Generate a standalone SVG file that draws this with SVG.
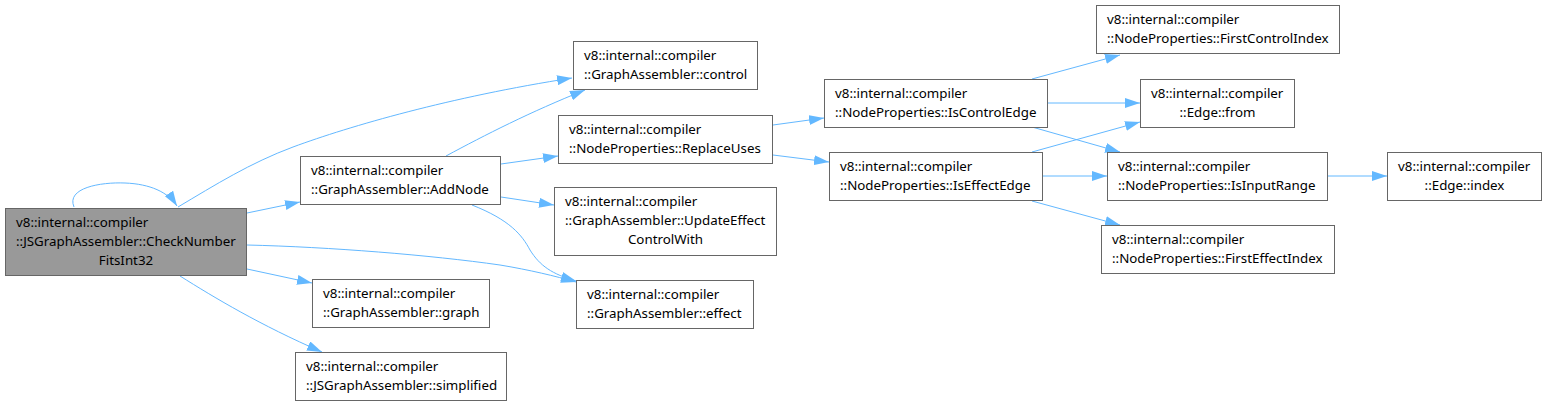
<svg xmlns="http://www.w3.org/2000/svg" width="1547" height="406" viewBox="0 0 1547 406">
<style>
.n rect{fill:#fff;stroke:#666;stroke-width:1}
.n.g rect{fill:#999}
.n text{font-family:"Noto Sans","DejaVu Sans",sans-serif;font-size:13.33px;fill:#000}
.n text.c{text-anchor:middle}
#edges path{fill:none;stroke:#63b8ff;stroke-width:1;marker-end:url(#ah)}
</style>
<defs>
<marker id="ah" viewBox="0 0 15 10" refX="15" refY="5" markerWidth="15" markerHeight="10" markerUnits="userSpaceOnUse" orient="auto">
<path d="M0,0 L15,5 L0,10 z" fill="#63b8ff"/>
</marker>
</defs>
<rect width="1547" height="406" fill="#fff"/>
<g id="edges">
<path d="M74,207 C66,188 100,182 125,183 C150,184 168,192 177,206"/>
<path d="M178,207 C215,185 250,163 293,147 C350,126 450,97 572,78"/>
<path d="M247,213 L300,202"/>
<path d="M247,245 C330,247 430,255 500,265 C530,270 555,276 576,282"/>
<path d="M247,269 L312,283"/>
<path d="M180,276 C215,298 260,325 322,352"/>
<path d="M446,156 C485,135 530,112 585,90"/>
<path d="M501,164 L558,156"/>
<path d="M501,197 L554,205"/>
<path d="M472,205 C510,220 522,235 530,250 C540,266 552,274 576,281"/>
<path d="M773,125 L824,118"/>
<path d="M773,155 L829,162"/>
<path d="M1032,79 L1120,55"/>
<path d="M1048,103 L1140,103"/>
<path d="M1032,127 L1120,152"/>
<path d="M1032,152 L1140,122"/>
<path d="M1042,176 L1107,176"/>
<path d="M1032,201 L1120,225"/>
<path d="M1327,176 L1387,176"/>
</g>
<g id="n_check" class="n g"><rect x="5.5" y="208.5" width="241" height="67"/><text x="16" y="227">v8::internal::compiler</text><text x="16" y="246">::JSGraphAssembler::CheckNumber</text><text class="c" x="126" y="265">FitsInt32</text></g>
<g id="n_addnode" class="n"><rect x="300.5" y="156.5" width="200" height="48"/><text x="311" y="175">v8::internal::compiler</text><text x="311" y="194">::GraphAssembler::AddNode</text></g>
<g id="n_control" class="n"><rect x="573.5" y="41.5" width="184" height="48"/><text x="584" y="60">v8::internal::compiler</text><text x="584" y="79">::GraphAssembler::control</text></g>
<g id="n_replaceuses" class="n"><rect x="558.5" y="115.5" width="214" height="48"/><text x="569" y="134">v8::internal::compiler</text><text x="569" y="153">::NodeProperties::ReplaceUses</text></g>
<g id="n_update" class="n"><rect x="554.5" y="187.5" width="222" height="68"/><text x="565" y="206">v8::internal::compiler</text><text x="565" y="225">::GraphAssembler::UpdateEffect</text><text class="c" x="665.5" y="244">ControlWith</text></g>
<g id="n_effect" class="n"><rect x="576.5" y="280.5" width="177" height="48"/><text x="587" y="299">v8::internal::compiler</text><text x="587" y="318">::GraphAssembler::effect</text></g>
<g id="n_graph" class="n"><rect x="312.5" y="279.5" width="177" height="48"/><text x="323" y="298">v8::internal::compiler</text><text x="323" y="317">::GraphAssembler::graph</text></g>
<g id="n_simplified" class="n"><rect x="295.5" y="352.5" width="211" height="48"/><text x="306" y="371">v8::internal::compiler</text><text x="306" y="390">::JSGraphAssembler::simplified</text></g>
<g id="n_iscontroledge" class="n"><rect x="824.5" y="79.5" width="223" height="48"/><text x="835" y="98">v8::internal::compiler</text><text x="835" y="117">::NodeProperties::IsControlEdge</text></g>
<g id="n_iseffectedge" class="n"><rect x="829.5" y="152.5" width="213" height="48"/><text x="840" y="171">v8::internal::compiler</text><text x="840" y="190">::NodeProperties::IsEffectEdge</text></g>
<g id="n_firstcontrolindex" class="n"><rect x="1096.5" y="5.5" width="243" height="48"/><text x="1107" y="24">v8::internal::compiler</text><text x="1107" y="43">::NodeProperties::FirstControlIndex</text></g>
<g id="n_edgefrom" class="n"><rect x="1140.5" y="79.5" width="154" height="48"/><text x="1151" y="98">v8::internal::compiler</text><text class="c" x="1217.5" y="117">::Edge::from</text></g>
<g id="n_isinputrange" class="n"><rect x="1107.5" y="152.5" width="220" height="48"/><text x="1118" y="171">v8::internal::compiler</text><text x="1118" y="190">::NodeProperties::IsInputRange</text></g>
<g id="n_firsteffectindex" class="n"><rect x="1101.5" y="225.5" width="233" height="48"/><text x="1112" y="244">v8::internal::compiler</text><text x="1112" y="263">::NodeProperties::FirstEffectIndex</text></g>
<g id="n_edgeindex" class="n"><rect x="1387.5" y="152.5" width="154" height="48"/><text x="1398" y="171">v8::internal::compiler</text><text class="c" x="1464.5" y="190">::Edge::index</text></g>
</svg>
